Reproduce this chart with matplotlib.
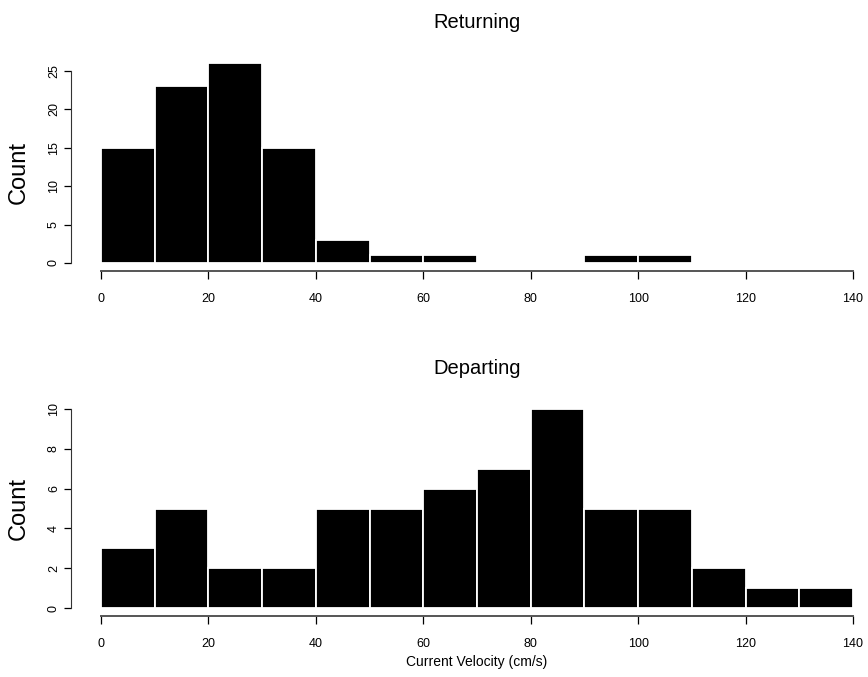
import numpy as np
import matplotlib
matplotlib.use("Agg")
import matplotlib.pyplot as plt

plt.rcParams['font.family'] = ['Liberation Sans', 'DejaVu Sans']

# histogram data, 10 cm/s bins
bin_edges = np.arange(0, 150, 10)
returning = [15, 23, 26, 15, 3, 1, 1, 0, 0, 1, 1, 0, 0, 0]
departing = [3, 5, 2, 2, 5, 5, 6, 7, 10, 5, 5, 2, 1, 1]
ret_yticks = [0, 5, 10, 15, 20, 25]
dep_yticks = [0, 2, 4, 6, 8, 10]
xticks = [0, 20, 40, 60, 80, 100, 120, 140]

W, H = 868, 677
fig = plt.figure(figsize=(W/100, H/100), dpi=100)

def px_axes(left, top, right, bottom):
    return fig.add_axes([left/W, 1-bottom/H, (right-left)/W, (bottom-top)/H])

def rhist(ax, counts, yticks):
    lefts = bin_edges[:-1]
    ax.bar(lefts, counts, width=10, align='edge', color='black',
           edgecolor='white', linewidth=1.3)
    top = max(counts)
    ax.set_xlim(-0.04*140, 140*1.04)
    ax.set_ylim(-0.04*top, top*1.04)
    for s in ['top', 'right']:
        ax.spines[s].set_visible(False)
    ax.spines['left'].set_bounds(yticks[0], yticks[-1])
    ax.spines['bottom'].set_bounds(0, 140)
    ax.spines['left'].set_color('#333333')
    ax.spines['bottom'].set_color('#555555')
    ax.spines['bottom'].set_linewidth(1.4)
    ax.set_xticks(xticks)
    ax.set_yticks(yticks)
    ax.tick_params(axis='x', length=6, width=0.9, pad=10, labelsize=9)
    ax.tick_params(axis='y', length=5, width=0.9, pad=3, labelsize=9)
    plt.setp(ax.get_yticklabels(), rotation=90, va='center')

ax1 = px_axes(71, 55, 883, 271)
rhist(ax1, returning, ret_yticks)
ax2 = px_axes(71, 401, 883, 616)
rhist(ax2, departing, dep_yticks)

fig.text(477/W, 1-22/H, "Returning", ha='center', va='center', fontsize=14.5)
fig.text(477/W, 1-368/H, "Departing", ha='center', va='center', fontsize=14.5)
fig.text(19/W, 1-172/H, "Count", rotation=90, ha='center', va='center', fontsize=17)
fig.text(19/W, 1-508/H, "Count", rotation=90, ha='center', va='center', fontsize=17)
fig.text(477/W, 1-662/H, "Current Velocity (cm/s)", ha='center', va='center', fontsize=10)

fig.savefig("out.png", dpi=100)
